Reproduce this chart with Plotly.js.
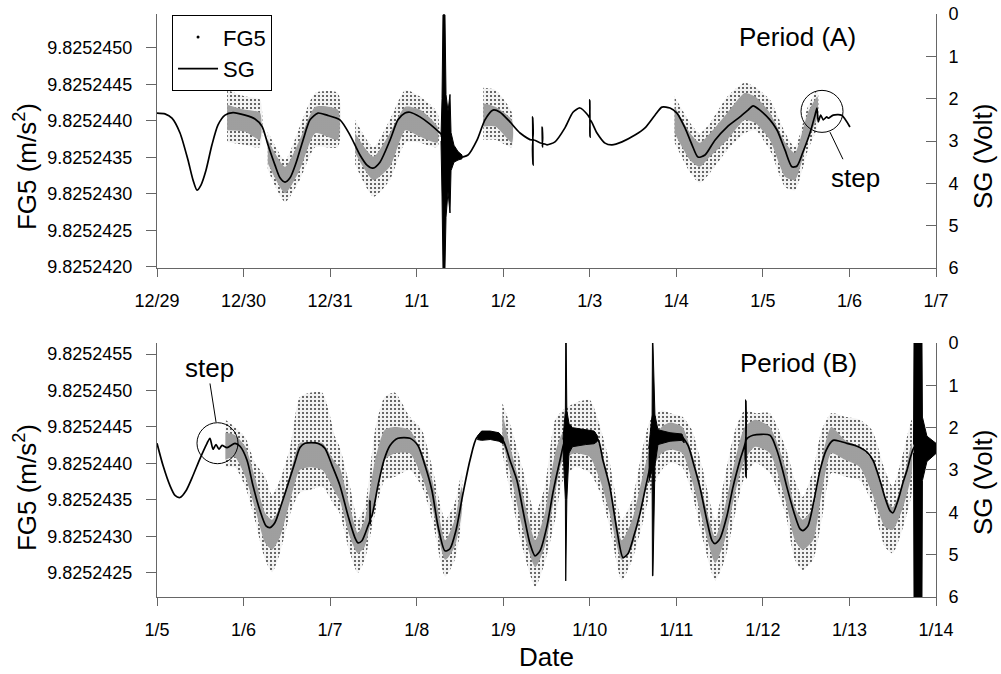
<!DOCTYPE html>
<html>
<head>
<meta charset="utf-8">
<script src="https://cdn.plot.ly/plotly-3.0.1.min.js"></script>
<style>html,body{margin:0;padding:0;background:#fff;}#chart{width:1001px;height:674px;}</style>
</head>
<body>
<div id="chart"></div>
<script>
// ---------- tick labels ----------
const dayTicks = [0,1,2,3,4,5,6,7,8,9];
const datesA = ['12/29','12/30','12/31','1/1','1/2','1/3','1/4','1/5','1/6','1/7'];
const datesB = ['1/5','1/6','1/7','1/8','1/9','1/10','1/11','1/12','1/13','1/14'];
const fgTicksA = [9.825242, 9.8252425, 9.825243, 9.8252435, 9.825244, 9.8252445, 9.825245];
const fgTickTextA = ['9.8252420','9.8252425','9.8252430','9.8252435','9.8252440','9.8252445','9.8252450'];
const fgTicksB = [9.8252425, 9.825243, 9.8252435, 9.825244, 9.8252445, 9.825245, 9.8252455];
const fgTickTextB = ['9.8252425','9.8252430','9.8252435','9.8252440','9.8252445','9.8252450','9.8252455'];
const sgTicks = [0,1,2,3,4,5,6];

// ---------- Period (A): FG5 scatter envelope (days since 12/29, m/s^2) ----------
const fgA_t = [0.81,1.02,1.19,null,1.28,1.48,1.65,1.83,2.09,null,2.29,2.50,2.69,2.87,3.04,3.24,null,3.77,3.91,4.10,null,5.98,6.16,6.27,6.39,6.59,6.79,6.91,7.08,7.26,7.37,7.52,7.63];
const fgA_outerHi = [9.82524442,9.82524433,9.82524429,null,9.82524385,9.82524346,9.82524392,9.82524438,9.82524438,null,9.82524401,9.82524364,9.82524401,9.82524442,9.82524433,9.82524411,null,9.82524445,9.82524442,9.82524411,null,9.82524433,9.82524397,9.82524383,9.82524397,9.82524433,9.82524452,9.82524446,9.82524429,9.82524383,9.82524364,9.82524419,9.82524442];
const fgA_coreHi = [9.82524422,9.82524415,9.82524411,null,9.82524374,9.82524337,9.82524374,9.82524419,9.82524415,null,9.82524383,9.82524351,9.82524383,9.82524419,9.82524415,9.82524392,null,9.82524424,9.82524419,9.82524401,null,9.82524419,9.82524383,9.82524370,9.82524383,9.82524411,9.82524438,9.82524433,9.82524411,9.82524370,9.82524356,9.82524411,9.82524433];
const fgA_coreLo = [9.82524387,9.82524385,9.82524374,null,9.82524342,9.82524301,9.82524333,9.82524383,9.82524374,null,9.82524356,9.82524319,9.82524337,9.82524387,9.82524378,9.82524370,null,9.82524392,9.82524392,9.82524370,null,9.82524383,9.82524346,9.82524337,9.82524351,9.82524374,9.82524401,9.82524397,9.82524374,9.82524323,9.82524319,9.82524374,9.82524405];
const fgA_outerLo = [9.82524371,9.82524367,9.82524364,null,9.82524333,9.82524289,9.82524319,9.82524364,9.82524364,null,9.82524340,9.82524296,9.82524319,9.82524370,9.82524370,9.82524364,null,9.82524374,9.82524374,9.82524364,null,9.82524370,9.82524329,9.82524315,9.82524329,9.82524360,9.82524383,9.82524387,9.82524360,9.82524309,9.82524305,9.82524360,9.82524392];

// ---------- Period (A): SG record (Volt) ----------
const sgA_t = [0.000,0.092,0.173,0.266,0.358,0.416,0.462,0.508,0.566,0.635,0.705,0.786,0.878,1.017,1.132,1.213,1.282,1.363,1.421,1.479,1.537,1.606,1.687,1.768,1.860,1.964,2.114,2.230,2.345,2.426,2.495,2.576,2.692,2.784,2.865,2.923,3.038,3.154,3.269,3.327,3.408,3.501,3.593,3.697,3.789,3.882,3.963,4.078,4.194,4.335,4.340,4.345,4.350,4.448,4.450,4.453,4.456,4.506,4.598,4.713,4.806,4.887,4.979,4.998,5.000,5.003,5.006,5.083,5.176,5.256,5.372,5.522,5.638,5.753,5.834,5.927,6.007,6.100,6.181,6.250,6.331,6.446,6.585,6.735,6.828,6.886,6.966,7.082,7.163,7.255,7.336,7.394,7.463,7.544,7.602,7.625,7.640,7.668,7.698,7.737,7.756,7.813,7.910,8.006];
const sgA_v = [2.34,2.36,2.46,2.81,3.45,3.92,4.16,4.04,3.69,3.09,2.62,2.39,2.33,2.39,2.48,2.65,3.09,3.57,3.87,3.97,3.87,3.52,2.98,2.50,2.34,2.39,2.50,2.86,3.33,3.57,3.64,3.50,2.98,2.50,2.34,2.32,2.43,2.60,2.81,2.93,3.26,3.38,3.33,2.98,2.50,2.27,2.32,2.55,2.81,2.97,2.43,3.57,2.98,3.05,2.67,3.14,3.06,3.09,3.02,2.69,2.32,2.22,2.39,2.45,2.03,2.91,2.50,2.81,3.05,3.09,3.02,2.86,2.69,2.39,2.20,2.22,2.34,2.69,3.09,3.38,3.33,2.98,2.67,2.43,2.27,2.17,2.27,2.50,2.74,3.21,3.61,3.59,3.26,2.81,2.39,2.22,2.55,2.39,2.50,2.43,2.46,2.39,2.39,2.67];
// earthquake burst on 1/1 (envelope, Volt)
const burstA_t  = [3.281,3.293,3.304,3.327,3.339,3.362,3.385,3.397,3.431,3.478,3.524];
const burstA_hi = [2.90,2.00,0.02,0.02,1.90,2.30,1.90,2.80,3.10,3.25,3.33];
const burstA_lo = [3.00,4.30,6.00,6.00,4.80,4.20,4.70,3.70,3.50,3.45,3.42];

// ---------- Period (B): FG5 scatter envelope (days since 1/5, m/s^2) ----------
const fgB_t = [0.79,0.90,1.02,1.13,1.25,1.33,1.42,1.54,1.65,1.77,1.91,2.06,2.11,2.23,2.32,2.40,2.52,2.63,2.75,2.92,3.06,3.18,3.33,3.44,3.52,null,3.99,4.10,4.22,4.37,4.48,4.60,4.69,4.83,5.00,5.12,5.23,5.37,5.49,5.60,5.70,5.83,5.93,6.07,6.18,6.30,6.45,6.56,6.68,6.79,6.91,7.08,7.26,7.37,7.46,7.58,7.68,7.79,7.95,8.12,8.26,8.41,8.50,8.62,8.72];
const fgB_outerHi = [9.82524460,9.82524450,9.82524436,9.82524401,9.82524382,9.82524357,9.82524377,9.82524423,9.82524491,9.82524497,9.82524497,9.82524436,9.82524423,9.82524368,9.82524323,9.82524340,9.82524446,9.82524491,9.82524497,9.82524464,9.82524446,9.82524395,9.82524323,9.82524346,9.82524387,null,9.82524483,9.82524446,9.82524395,9.82524332,9.82524368,9.82524460,9.82524473,9.82524483,9.82524487,9.82524450,9.82524401,9.82524323,9.82524350,9.82524414,9.82524460,9.82524473,9.82524469,9.82524464,9.82524446,9.82524395,9.82524323,9.82524382,9.82524446,9.82524473,9.82524469,9.82524469,9.82524423,9.82524377,9.82524354,9.82524391,9.82524446,9.82524469,9.82524464,9.82524460,9.82524446,9.82524391,9.82524368,9.82524414,9.82524460];
const fgB_coreHi = [9.82524442,9.82524439,9.82524423,9.82524382,9.82524332,9.82524323,9.82524340,9.82524387,9.82524428,9.82524428,9.82524428,9.82524401,9.82524395,9.82524340,9.82524305,9.82524323,9.82524405,9.82524446,9.82524450,9.82524446,9.82524414,9.82524377,9.82524295,9.82524323,9.82524368,null,9.82524469,9.82524414,9.82524360,9.82524295,9.82524332,9.82524414,9.82524442,9.82524442,9.82524442,9.82524423,9.82524368,9.82524295,9.82524323,9.82524377,9.82524423,9.82524450,9.82524456,9.82524450,9.82524414,9.82524360,9.82524299,9.82524340,9.82524405,9.82524450,9.82524460,9.82524450,9.82524395,9.82524340,9.82524323,9.82524340,9.82524405,9.82524450,9.82524432,9.82524423,9.82524405,9.82524354,9.82524340,9.82524377,9.82524428];
const fgB_coreLo = [9.82524405,9.82524409,9.82524382,9.82524340,9.82524291,9.82524282,9.82524299,9.82524350,9.82524391,9.82524395,9.82524391,9.82524360,9.82524350,9.82524299,9.82524277,9.82524286,9.82524350,9.82524405,9.82524414,9.82524414,9.82524382,9.82524340,9.82524268,9.82524286,9.82524332,null,9.82524432,9.82524377,9.82524313,9.82524258,9.82524286,9.82524360,9.82524405,9.82524414,9.82524409,9.82524377,9.82524332,9.82524268,9.82524286,9.82524340,9.82524387,9.82524414,9.82524419,9.82524414,9.82524377,9.82524323,9.82524264,9.82524295,9.82524360,9.82524405,9.82524423,9.82524414,9.82524350,9.82524295,9.82524282,9.82524295,9.82524360,9.82524414,9.82524405,9.82524395,9.82524360,9.82524313,9.82524309,9.82524340,9.82524387];
const fgB_outerLo = [9.82524395,9.82524395,9.82524368,9.82524323,9.82524268,9.82524251,9.82524277,9.82524332,9.82524360,9.82524364,9.82524368,9.82524340,9.82524332,9.82524277,9.82524250,9.82524268,9.82524332,9.82524377,9.82524382,9.82524391,9.82524368,9.82524323,9.82524245,9.82524268,9.82524323,null,9.82524414,9.82524350,9.82524286,9.82524231,9.82524264,9.82524323,9.82524377,9.82524395,9.82524387,9.82524360,9.82524313,9.82524240,9.82524268,9.82524313,9.82524360,9.82524391,9.82524401,9.82524395,9.82524360,9.82524299,9.82524240,9.82524268,9.82524332,9.82524382,9.82524401,9.82524387,9.82524332,9.82524268,9.82524254,9.82524268,9.82524323,9.82524387,9.82524382,9.82524377,9.82524346,9.82524286,9.82524277,9.82524313,9.82524360];

// ---------- Period (B): SG record (Volt) ----------
const sgB_t = [0.000,0.069,0.150,0.208,0.266,0.335,0.416,0.497,0.578,0.612,0.647,0.682,0.716,0.751,0.809,0.901,0.959,1.040,1.109,1.190,1.259,1.305,1.363,1.433,1.502,1.583,1.652,1.710,1.860,1.941,2.022,2.114,2.207,2.287,2.322,2.368,2.438,2.458,2.461,2.464,2.467,2.484,2.553,2.622,2.692,2.784,2.923,3.015,3.096,3.177,3.246,3.327,3.385,3.454,3.535,3.616,3.697,3.789,3.905,3.997,4.078,4.159,4.240,4.309,4.367,4.425,4.506,4.575,4.656,4.714,4.772,5.083,5.152,5.233,5.314,5.384,5.441,5.511,5.580,5.649,5.695,5.730,5.776,6.065,6.135,6.204,6.273,6.354,6.412,6.446,6.504,6.585,6.654,6.735,6.800,6.803,6.806,6.809,6.886,7.082,7.163,7.220,7.278,7.371,7.429,7.463,7.521,7.590,7.660,7.729,7.810,7.890,7.971,8.064,8.122,8.203,8.272,8.353,8.410,8.468,8.503,8.561,8.618,8.664,8.711,8.746,8.838,8.919,9.000];
const sgB_v = [2.37,2.89,3.37,3.60,3.65,3.49,3.13,2.73,2.37,2.25,2.51,2.40,2.51,2.42,2.47,2.37,2.44,2.77,3.37,3.96,4.32,4.36,4.24,3.84,3.41,2.89,2.47,2.37,2.37,2.49,2.89,3.37,4.08,4.60,4.72,4.67,4.32,4.20,3.72,4.27,4.14,4.08,3.37,2.77,2.42,2.25,2.25,2.42,2.89,3.49,4.32,4.91,4.86,4.43,3.56,2.77,2.23,2.18,2.18,2.30,2.77,3.25,4.08,4.74,5.03,4.91,4.32,3.53,2.77,2.30,2.21,2.25,2.77,3.41,4.43,5.07,4.98,4.55,4.03,3.37,2.94,2.54,2.23,2.23,2.42,2.89,3.41,4.20,4.67,4.74,4.62,4.08,3.41,2.77,2.32,1.35,3.18,2.28,2.18,2.18,2.54,2.94,3.41,4.08,4.39,4.43,4.32,3.72,3.01,2.54,2.30,2.32,2.37,2.42,2.47,2.58,2.77,3.25,3.65,3.96,4.01,3.72,3.30,3.01,2.66,2.47,2.35,2.44,2.47];
// noisy / disturbed parts of the SG record (envelopes, Volt)
const burstB_t  = [3.70,3.75,3.85,3.95,4.00,null,4.69,4.718,4.722,4.728,4.735,4.76,4.80,4.95,5.05,5.09,null,5.68,5.72,5.724,5.730,5.753,5.788,5.927,6.065,6.09,null,8.740,8.746,8.838,8.843,8.895,9.000];
const burstB_hi = [2.20,2.08,2.08,2.12,2.24,null,2.28,1.60,0.00,0.00,1.60,1.90,2.00,2.05,2.08,2.20,null,2.50,1.70,0.00,0.00,1.70,2.05,2.12,2.15,2.28,null,2.40,0.00,0.00,1.75,2.20,2.37];
const burstB_lo = [2.28,2.30,2.28,2.32,2.38,null,2.45,3.70,5.62,5.62,3.70,2.60,2.45,2.40,2.38,2.32,null,3.30,3.00,5.50,5.50,2.90,2.40,2.32,2.30,2.36,null,2.60,6.00,6.00,3.25,2.80,2.61];

// ---------- helpers ----------
function splitSegs(t, arrays) {
  const segs = []; let cur = null;
  t.forEach((v, i) => {
    if (v === null) { cur = null; return; }
    if (!cur) { cur = {t: [], a: arrays.map(() => [])}; segs.push(cur); }
    cur.t.push(v);
    arrays.forEach((arr, k) => cur.a[k].push(arr[i]));
  });
  return segs;
}
function bandTraces(t, hi, lo, xa, ya, style) {
  return splitSegs(t, [hi, lo]).map(s => Object.assign({
    type: 'scatter', mode: 'lines',
    x: s.t.concat(s.t.slice().reverse()),
    y: s.a[0].concat(s.a[1].slice().reverse()),
    fill: 'toself', xaxis: xa, yaxis: ya, showlegend: false, hoverinfo: 'skip'
  }, style));
}
const outerStyle = {line: {width: 0, shape: 'spline', smoothing: 0.6}, fillcolor: '#f0f0f0',
  fillpattern: {shape: '.', fgcolor: '#444', bgcolor: '#f3f3f3', size: 4, solidity: 0.22}};
const coreStyle = {line: {width: 0, shape: 'spline', smoothing: 0.6}, fillcolor: '#a6a6a6',
  fillpattern: {shape: '.', fgcolor: '#8a8a8a', bgcolor: '#acacac', size: 2, solidity: 0.4}};
const burstStyle = {line: {width: 1, color: '#000'}, fillcolor: '#000'};

const traces = [];
// legend-only entry for the FG5 dots
traces.push({type: 'scatter', mode: 'markers', x: [null], y: [null], name: 'FG5',
  marker: {size: 3, color: '#000'}, xaxis: 'x', yaxis: 'y', showlegend: true});
traces.push(...bandTraces(fgA_t, fgA_outerHi, fgA_outerLo, 'x', 'y', outerStyle));
traces.push(...bandTraces(fgA_t, fgA_coreHi, fgA_coreLo, 'x', 'y', coreStyle));
traces.push(...bandTraces(fgB_t, fgB_outerHi, fgB_outerLo, 'x2', 'y3', outerStyle));
traces.push(...bandTraces(fgB_t, fgB_coreHi, fgB_coreLo, 'x2', 'y3', coreStyle));
traces.push({type: 'scatter', mode: 'lines', x: sgA_t, y: sgA_v, name: 'SG', xaxis: 'x', yaxis: 'y2',
  line: {color: '#000', width: 1.7, shape: 'spline', smoothing: 0.7}, showlegend: true});
traces.push(...bandTraces(burstA_t, burstA_hi, burstA_lo, 'x', 'y2', burstStyle));
traces.push({type: 'scatter', mode: 'lines', x: sgB_t, y: sgB_v, name: 'SG', xaxis: 'x2', yaxis: 'y4',
  line: {color: '#000', width: 1.7, shape: 'spline', smoothing: 0.7}, showlegend: false});
traces.push(...bandTraces(burstB_t, burstB_hi, burstB_lo, 'x2', 'y4', burstStyle));

const FONT = 'Liberation Sans, Arial, sans-serif';
const axCol = '#666';
function xAxis(anchor, labels) {
  return {anchor: anchor, domain: [0, 1], range: [0, 9], tickmode: 'array', tickvals: dayTicks, ticktext: labels,
    ticks: 'outside', ticklen: 8, tickcolor: axCol, showline: true, linecolor: axCol, linewidth: 1,
    showgrid: false, zeroline: false, tickfont: {size: 18, family: FONT, color: '#000'}, ticklabelstandoff: 8};
}
function fgAxis(anchor, domain, range, vals, text) {
  return {anchor: anchor, domain: domain, range: range, tickmode: 'array', tickvals: vals, ticktext: text,
    ticks: 'outside', ticklen: 10, tickcolor: axCol, showline: true, linecolor: axCol, linewidth: 1,
    showgrid: false, zeroline: false, tickfont: {size: 18, family: FONT, color: '#000'}, ticklabelstandoff: 10};
}
function sgAxis(over, anchor) {
  return {overlaying: over, anchor: anchor, side: 'right', range: [6, 0], tickmode: 'array', tickvals: sgTicks,
    ticks: 'inside', ticklen: 10, tickcolor: axCol, showline: true, linecolor: axCol, linewidth: 1,
    showgrid: false, zeroline: false, tickfont: {size: 18, family: FONT, color: '#000'}, ticklabelstandoff: 8};
}

const layout = {
  width: 1001, height: 674,
  margin: {l: 157, r: 65, t: 14, b: 77, pad: 0},
  paper_bgcolor: '#fff', plot_bgcolor: '#fff',
  font: {family: FONT, color: '#000'},
  showlegend: true,
  legend: {x: 0.0193, y: 0.998, xanchor: 'left', yanchor: 'top', bgcolor: '#fff',
    bordercolor: '#000', borderwidth: 1, font: {size: 22, family: FONT}, tracegroupgap: 0, itemwidth: 40},
  xaxis: xAxis('y', datesA),
  yaxis: fgAxis('x', [0.5643, 1], [9.825241986, 9.82524546], fgTicksA, fgTickTextA),
  yaxis2: sgAxis('y', 'x'),
  xaxis2: xAxis('y3', datesB),
  yaxis3: fgAxis('x2', [0, 0.4357], [9.825242171, 9.825245651], fgTicksB, fgTickTextB),
  yaxis4: sgAxis('y3', 'x2'),
  shapes: [
    {type: 'circle', xref: 'x', yref: 'y2', xsizemode: 'pixel', ysizemode: 'pixel',
      xanchor: 7.683, yanchor: 2.30, x0: -21, x1: 21, y0: -21, y1: 21, line: {color: '#000', width: 1}},
    {type: 'line', xref: 'x', yref: 'y2', x0: 7.775, y0: 2.79, x1: 7.925, y1: 3.43, line: {color: '#000', width: 1}},
    {type: 'circle', xref: 'x2', yref: 'y4', xsizemode: 'pixel', ysizemode: 'pixel',
      xanchor: 0.699, yanchor: 2.367, x0: -20.5, x1: 20.5, y0: -20.5, y1: 20.5, line: {color: '#000', width: 1}},
    {type: 'line', xref: 'x2', yref: 'y4', x0: 0.612, y0: 0.956, x1: 0.682, y1: 1.866, line: {color: '#000', width: 1}}
  ],
  annotations: [
    {text: 'Period (A)', xref: 'paper', yref: 'paper', x: 0.8216, y: 0.9605, xanchor: 'center', yanchor: 'middle', showarrow: false, font: {size: 26}},
    {text: 'Period (B)', xref: 'paper', yref: 'paper', x: 0.823, y: 0.4014, xanchor: 'center', yanchor: 'middle', showarrow: false, font: {size: 26}},
    {text: 'step', xref: 'x', yref: 'y2', x: 8.070, y: 3.874, xanchor: 'center', yanchor: 'middle', showarrow: false, font: {size: 26}},
    {text: 'step', xref: 'x2', yref: 'y4', x: 0.612, y: 0.593, xanchor: 'center', yanchor: 'middle', showarrow: false, font: {size: 26}},
    {text: 'FG5 (m/s<sup>2</sup>)', xref: 'paper', yref: 'paper', x: -0.168, y: 0.7376, textangle: -90, xanchor: 'center', yanchor: 'middle', showarrow: false, font: {size: 26}},
    {text: 'FG5 (m/s<sup>2</sup>)', xref: 'paper', yref: 'paper', x: -0.168, y: 0.187, textangle: -90, xanchor: 'center', yanchor: 'middle', showarrow: false, font: {size: 26}},
    {text: 'SG (Volt)', xref: 'paper', yref: 'paper', x: 1.0603, y: 0.7564, textangle: -90, xanchor: 'center', yanchor: 'middle', showarrow: false, font: {size: 26}},
    {text: 'SG (Volt)', xref: 'paper', yref: 'paper', x: 1.0603, y: 0.197, textangle: -90, xanchor: 'center', yanchor: 'middle', showarrow: false, font: {size: 26}},
    {text: 'Date', xref: 'paper', yref: 'paper', x: 0.5, y: -0.1029, xanchor: 'center', yanchor: 'middle', showarrow: false, font: {size: 26}}
  ]
};

Plotly.newPlot('chart', traces, layout, {displayModeBar: false, staticPlot: true});
</script>
</body>
</html>
